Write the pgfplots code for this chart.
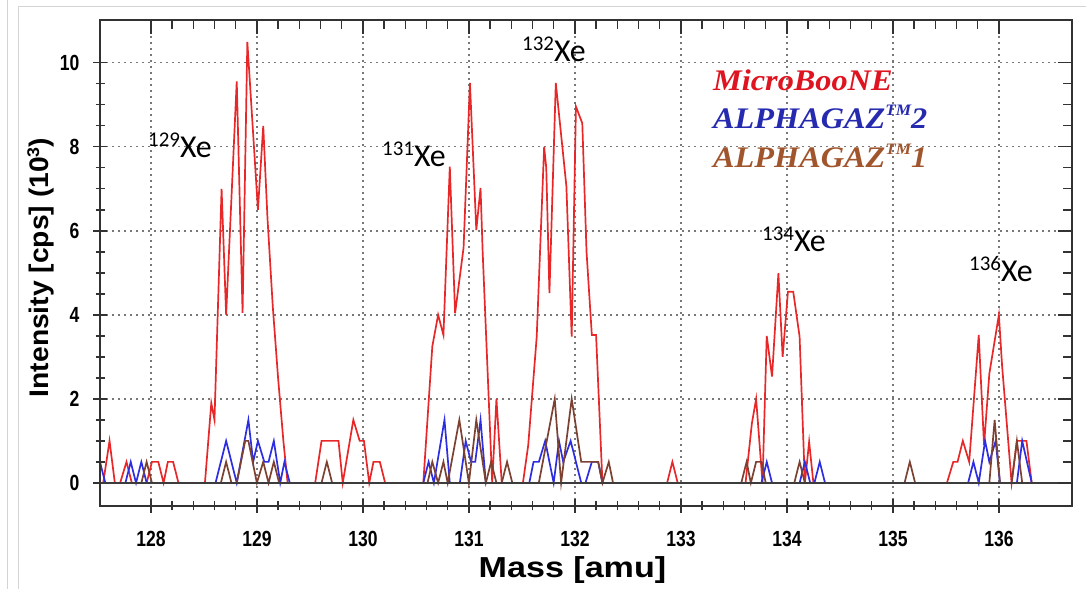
\documentclass[border=0pt]{standalone}
\usepackage{fontspec}
\usepackage{pgfplots}
\pgfplotsset{compat=1.18}
\setmainfont{Liberation Sans}
\newfontfamily\tickfont[FakeStretch=0.8]{Liberation Sans}
\newfontfamily\labfont[FakeStretch=1.18]{Liberation Sans}
\newfontfamily\ylabfont[FakeStretch=1.05]{Liberation Sans}
\newfontfamily\legfont[FakeStretch=1.08]{Liberation Serif}
\newfontfamily\xefont{Carlito}
\definecolor{cred}{RGB}{232,40,40}
\definecolor{cblue}{RGB}{45,45,225}
\definecolor{cbrown}{RGB}{125,65,50}
\definecolor{lred}{RGB}{222,20,32}
\definecolor{lblue}{RGB}{38,42,175}
\definecolor{lbrown}{RGB}{160,85,45}
\definecolor{frame}{RGB}{50,50,50}
\definecolor{zline}{RGB}{60,60,60}
\definecolor{gridc}{RGB}{120,120,120}
\definecolor{border}{RGB}{212,212,212}

\pgfplotsset{
  common/.style={
    at={(100bp,83bp)}, anchor=south west,
    scale only axis, width=972bp, height=486bp,
    xmin=127.52, xmax=136.69, ymin=-0.55, ymax=11.02,
    xtick={128,129,...,136}, ytick={0,2,...,10},
    minor x tick num=4, minor y tick num=3,
    axis line style={line width=1.7bp, frame},
    every tick/.style={line width=1.3bp, frame},
    major tick length=14bp, minor tick length=9bp,
  }
}

\begin{document}
\begin{tikzpicture}[x=1bp,y=1bp]
\useasboundingbox (0,0) rectangle (1086,589);
\draw[border, line width=1bp] (7,0) -- (7,589);
\draw[border, line width=1bp] (18,0) -- (18,582) -- (1086,582);

\begin{axis}[common,
  tick align=center, xtick pos=bottom, ytick pos=left,
  grid=major,
  major grid style={dash pattern=on 1.5bp off 4.5bp, line width=1.3bp, gridc},
  /pgf/number format/assume math mode=true,
  xticklabel style={font=\tickfont\bfseries\fontsize{22}{22}\selectfont, yshift=-15bp},
  yticklabel style={font=\tickfont\bfseries\fontsize{22}{22}\selectfont, xshift=-10bp},
]
\addplot[cred, line width=1.7bp] coordinates {
(127.52,0) (127.55,0) (127.61,1) (127.66,0) (127.71,0) (127.77,0.5) (127.82,0)
(127.96,0) (128.01,0.5) (128.07,0.5) (128.12,0) (128.16,0.5) (128.21,0.5) (128.26,0)
(128.51,0) (128.57,1.9) (128.60,1.5) (128.667,7.0) (128.71,4.0) (128.81,9.56)
(128.865,4.05) (128.91,10.5) (129.01,6.5) (129.06,8.5) (129.10,6.3) (129.15,4.2)
(129.20,2.5) (129.25,1.0) (129.29,0)
(129.55,0) (129.61,1) (129.77,1) (129.81,0) (129.91,1.5) (129.97,1) (130.01,1)
(130.06,0) (130.10,0.5) (130.16,0.5) (130.21,0)
(130.57,0) (130.655,3.25) (130.71,4.0) (130.76,3.52) (130.82,7.53) (130.87,4.04)
(130.95,5.6) (131.01,9.52) (131.07,6.02) (131.11,7.02) (131.13,5.5) (131.22,0)
(131.26,2.0) (131.31,0)
(131.51,0) (131.56,0.9) (131.64,3.48) (131.71,8.0) (131.73,7.5) (131.76,4.52)
(131.82,9.52) (131.92,7.06) (131.97,3.48) (132.01,8.96) (132.07,8.56) (132.11,5.5)
(132.16,3.52) (132.20,3.52) (132.26,0)
(132.87,0) (132.92,0.5) (132.97,0)
(133.61,0) (133.67,1.42) (133.71,2.0) (133.77,0) (133.81,3.5) (133.86,2.53)
(133.92,4.99) (133.96,3.0) (134.01,4.55) (134.06,4.55) (134.12,3.48) (134.17,0)
(134.21,0.98) (134.25,0)
(135.51,0) (135.57,0.5) (135.61,0.5) (135.66,1.0) (135.72,0.5) (135.81,3.52)
(135.86,0.9) (135.91,2.6) (136.0,4.0) (136.03,2.8) (136.12,0) (136.17,1.0)
(136.26,1.0) (136.31,0) (136.69,0)
};
\addplot[cblue, line width=1.7bp] coordinates {
(127.52,0.5) (127.57,0) (127.76,0) (127.81,0.5) (127.86,0) (127.91,0.5) (127.96,0)
(128.61,0) (128.71,1) (128.81,0) (128.92,1.5) (128.965,0.5) (129.01,1) (129.07,0.5)
(129.11,0.5) (129.16,1) (129.22,0) (129.26,0.5) (129.31,0)
(130.57,0) (130.62,0.5) (130.67,0) (130.77,1.5) (130.82,0) (130.915,0) (130.97,1)
(131.02,0.5) (131.06,0.5) (131.11,1.5) (131.16,0)
(131.57,0) (131.61,0.5) (131.66,0.5) (131.72,1) (131.80,0) (131.85,1) (131.89,0.5)
(131.96,1) (132.06,0) (132.10,0) (132.16,0.5) (132.22,0.5) (132.26,0)
(133.76,0) (133.81,0.5) (133.86,0) (134.12,0) (134.17,0.5) (134.22,0) (134.26,0)
(134.31,0.5) (134.36,0)
(135.71,0) (135.76,0.5) (135.81,0) (135.87,1) (135.91,0.5) (135.97,1) (136.01,0)
(136.17,0) (136.22,1) (136.31,0)
};
\addplot[cbrown, line width=1.7bp] coordinates {
(127.91,0) (127.96,0.5) (128.01,0)
(128.66,0) (128.71,0.5) (128.76,0) (128.81,0) (128.89,1) (128.92,1) (129.0,0)
(129.06,0.5) (129.11,0) (129.16,0.5) (129.21,0)
(129.61,0) (129.66,0.5) (129.71,0)
(130.61,0) (130.655,0.5) (130.71,0) (130.76,0.5) (130.80,0) (130.91,1.5) (131.0,0)
(131.07,1.5) (131.16,0) (131.21,0.5) (131.26,0) (131.31,0) (131.36,0.5) (131.41,0)
(131.66,0) (131.81,2) (131.87,0) (131.97,2) (132.06,0.5) (132.22,0.5) (132.26,0)
(132.32,0.5) (132.36,0)
(133.57,0) (133.62,0.5) (133.66,0) (133.71,0.5) (133.76,0.5) (133.80,0)
(134.07,0) (134.12,0.5) (134.17,0)
(135.11,0) (135.16,0.5) (135.21,0)
(135.91,0) (135.96,1.5) (136.01,0) (136.12,0) (136.17,1) (136.22,0)
};
\addplot[zline, line width=2.4bp] coordinates {(127.52,0) (136.69,0)};
\end{axis}

\begin{axis}[common,
  tick align=inside, xtick pos=top, ytick pos=right,
  xticklabels={}, yticklabels={},
]
\end{axis}

% axis labels
\node[rotate=90, anchor=base] at (48,321.5)
  {\ylabfont\bfseries\fontsize{27}{27}\selectfont Intensity [cps] (10{\fontsize{17}{17}\selectfont\raisebox{9bp}{3}})};
\node[anchor=base] at (572.5,11)
  {\labfont\bfseries\fontsize{29}{29}\selectfont Mass [amu]};

% isotope labels
\newcommand{\iso}[1]{{\xefont\fontsize{21}{21}\selectfont\raisebox{11bp}{#1}}{\xefont\fontsize{32}{32}\selectfont Xe}}
\node[anchor=base west, inner sep=0] at (148,431) {\iso{129}};
\node[anchor=base west, inner sep=0] at (382,422) {\iso{131}};
\node[anchor=base west, inner sep=0] at (522,527) {\iso{132}};
\node[anchor=base west, inner sep=0] at (762,337) {\iso{134}};
\node[anchor=base west, inner sep=0] at (969,307) {\iso{136}};

% legend text
\node[anchor=base west, inner sep=0, text=lred] at (713,498)
  {\legfont\bfseries\itshape\fontsize{30}{30}\selectfont MicroBooNE};
\node[anchor=base west, inner sep=0, text=lblue] at (713,460)
  {\legfont\bfseries\itshape\fontsize{30}{30}\selectfont ALPHAGAZ{\fontsize{16}{16}\selectfont\raisebox{13bp}{TM}}2};
\node[anchor=base west, inner sep=0, text=lbrown] at (713,421)
  {\legfont\bfseries\itshape\fontsize{30}{30}\selectfont ALPHAGAZ{\fontsize{16}{16}\selectfont\raisebox{13bp}{TM}}1};
\end{tikzpicture}
\end{document}
